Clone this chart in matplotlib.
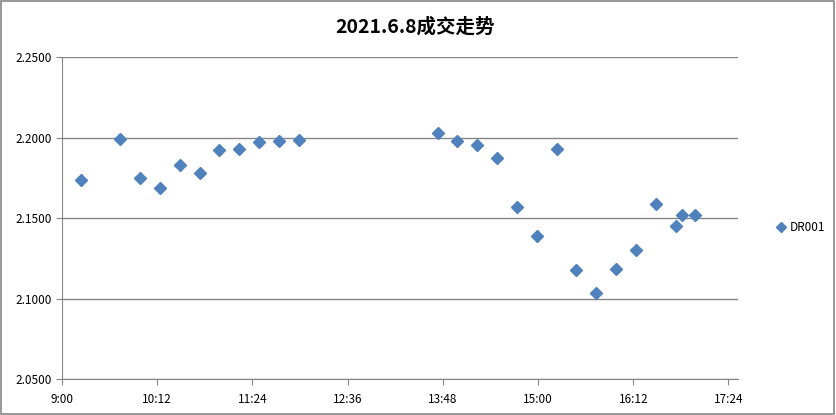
import matplotlib
matplotlib.use("Agg")
import matplotlib.pyplot as plt
from matplotlib.patches import Rectangle
from matplotlib.ticker import FuncFormatter, FormatStrFormatter

plt.rcParams['font.family'] = ['Noto Sans CJK SC', 'DejaVu Sans']

# trade times and prices
times = ["9:14", "9:44", "9:59", "10:14", "10:29", "10:44", "10:59", "11:14",
         "11:29", "11:44", "11:59",
         "13:44", "13:59", "14:14", "14:29", "14:44", "14:59", "15:14", "15:29",
         "15:44", "15:59", "16:14", "16:29", "16:44", "16:49", "16:59"]
prices = [2.1735, 2.1994, 2.1753, 2.1691, 2.1832, 2.1783, 2.1925, 2.1932,
          2.1975, 2.1981, 2.1988,
          2.2027, 2.1981, 2.1957, 2.1876, 2.1572, 2.1391, 2.1932, 2.1180,
          2.1037, 2.1187, 2.1304, 2.1590, 2.1455, 2.1522, 2.1522]
series_name = "DR001"
title = "2021.6.8成交走势"


def to_min(t):
    h, m = t.split(":")
    return int(h) * 60 + int(m)


x = [to_min(t) for t in times]

fig = plt.figure(figsize=(8.36, 4.15), dpi=100)
ax = fig.add_axes([0.0742, 0.086, 0.8086, 0.776])

blue = "#4F81BD"
grid = "#868686"
ax.plot(x, prices, ls="none", marker="D", ms=5.8, color=blue, mec=blue,
        label=series_name, zorder=3)

ax.set_xlim(540, 1051.2)
ax.set_ylim(2.05, 2.25)
ax.set_xticks(range(540, 1045, 72))
ax.set_yticks([2.05, 2.10, 2.15, 2.20, 2.25])
ax.xaxis.set_major_formatter(FuncFormatter(lambda v, p: f"{int(v)//60}:{int(v)%60:02d}"))
ax.yaxis.set_major_formatter(FormatStrFormatter("%.4f"))
ax.yaxis.grid(True, color=grid, lw=1)
ax.set_axisbelow(True)
for s in ["top", "right"]:
    ax.spines[s].set_visible(False)
for s in ["left", "bottom"]:
    ax.spines[s].set_color(grid)
ax.tick_params(axis="both", colors=grid, labelcolor="black", labelsize=8.5,
               length=4, direction="out")
ax.tick_params(axis="x", pad=6)

fig.text(0.497, 0.935, title, ha="center", va="center", fontsize=14,
         fontweight="bold")

fig.legend(loc="center left", bbox_to_anchor=(0.915, 0.452), frameon=False,
           fontsize=8.5, handletextpad=0.2, handlelength=1.0, markerscale=0.95)

fig.patches.append(Rectangle((0.001, 0.002), 0.997, 0.996, transform=fig.transFigure,
                             fill=False, ec="#868686", lw=1.2))

fig.savefig("out.png", dpi=100)
